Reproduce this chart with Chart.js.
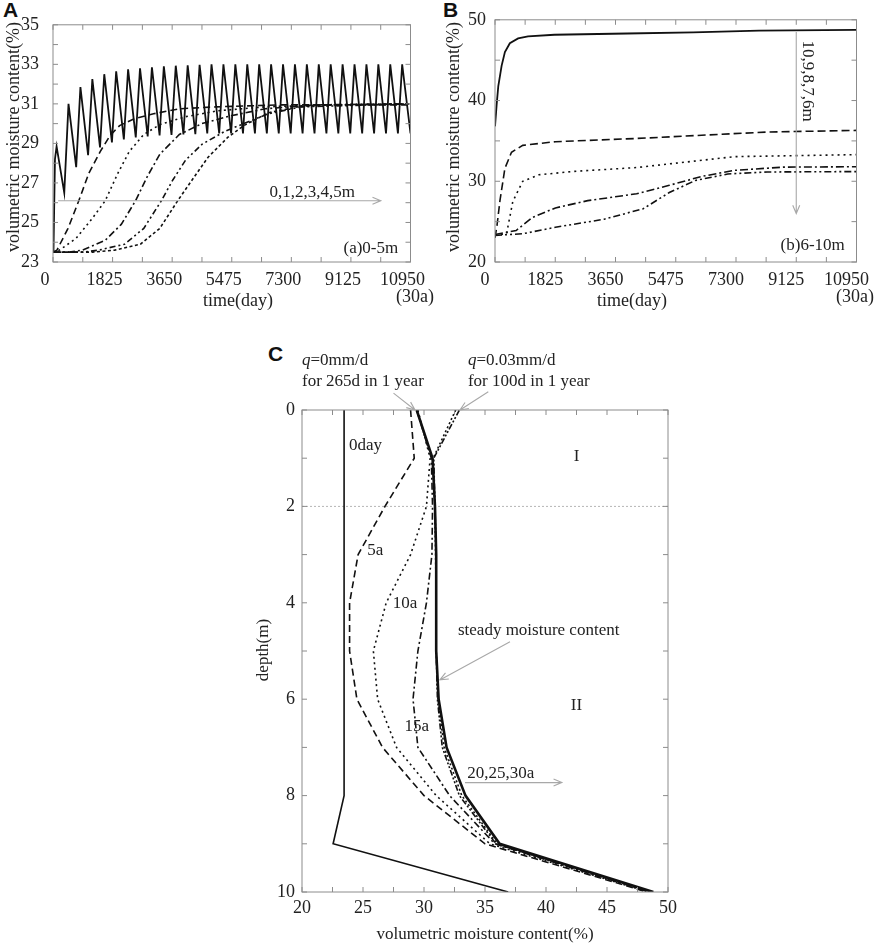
<!DOCTYPE html>
<html>
<head>
<meta charset="utf-8">
<script src="https://cdn.jsdelivr.net/npm/chart.js@4.4.1/dist/chart.umd.min.js"></script>
<style>
    body { margin: 0; width: 886px; height: 949px; background: #fff; position: relative; overflow: hidden; }
    canvas { position: absolute; }
    .tag { position: absolute; font: bold 21px "Liberation Sans", Arial, sans-serif; color: #111; }
</style>
</head>
<body>
<div class="tag" style="left:3px;top:-2px">A</div>
<div class="tag" style="left:443px;top:-2px">B</div>
<div class="tag" style="left:268px;top:342px">C</div>
<canvas id="chartA" width="440" height="310" style="left:0;top:0"></canvas>
<canvas id="chartB" width="446" height="310" style="left:440px;top:0"></canvas>
<canvas id="chartC" width="460" height="629" style="left:240px;top:320px"></canvas>
<script>
// ======================= Data =======================
const timeTicks = [0, 1825, 3650, 5475, 7300, 9125, 10950];
const ticksA = [23, 25, 27, 29, 31, 33, 35];
const ticksB = [20, 30, 40, 50];
const ticksCx = [20, 25, 30, 35, 40, 45, 50];
const ticksCy = [0, 2, 4, 6, 8, 10];

// (a) 0-5m, moisture vs time
const days0m = [0, 15, 60, 110, 345, 475, 710, 840, 1075, 1205, 1440, 1570, 1805, 1935, 2170, 2300, 2535,
    2665, 2900, 3030, 3265, 3395, 3630, 3760, 3995, 4125, 4360, 4490, 4725, 4855, 5090, 5220, 5455, 5585,
    5820, 5950, 6185, 6315, 6550, 6680, 6915, 7045, 7280, 7410, 7645, 7775, 8010, 8140, 8375, 8505, 8740,
    8870, 9105, 9235, 9470, 9600, 9835, 9965, 10200, 10330, 10565, 10695, 10950];
const vals0m = [23.5, 23.6, 28.2, 28.85, 26.5, 31.0, 27.8, 31.85, 28.4, 32.25, 28.8, 32.5, 29.05, 32.65, 29.2,
    32.75, 29.3, 32.8, 29.35, 32.85, 29.4, 32.9, 29.43, 32.93, 29.45, 32.95, 29.47, 32.97, 29.5, 33.0, 29.5,
    33.0, 29.5, 33.0, 29.5, 33.0, 29.5, 33.0, 29.5, 33.0, 29.5, 33.0, 29.5, 33.0, 29.5, 33.0, 29.5, 33.0,
    29.5, 33.0, 29.5, 33.0, 29.5, 33.0, 29.5, 33.0, 29.5, 33.0, 29.5, 33.0, 29.5, 33.0, 29.5];
const days1m = [0, 120, 460, 790, 1100, 1450, 1750, 2040, 2490, 3080, 3860, 5000, 7000, 10950];
const vals1m = [23.5, 23.6, 24.7, 26.1, 27.5, 28.6, 29.4, 29.9, 30.25, 30.5, 30.75, 30.85, 30.95, 30.95];
const days2m = [0, 200, 710, 1200, 1600, 1990, 2340, 2780, 3270, 4060, 5050, 6500, 8500, 10950];
const vals2m = [23.5, 23.6, 24.2, 25.2, 26.1, 27.5, 28.6, 29.45, 29.95, 30.35, 30.65, 30.85, 30.95, 31.0];
const days3m = [0, 500, 900, 1600, 2090, 2530, 2880, 3270, 3870, 4560, 5450, 6500, 8000, 10950];
const vals3m = [23.5, 23.5, 23.6, 24.1, 24.9, 26.1, 27.3, 28.45, 29.45, 30.0, 30.4, 30.75, 30.95, 31.0];
const days4m = [0, 900, 1400, 2190, 2780, 3320, 3670, 4060, 4560, 5250, 5840, 6600, 7600, 10950];
const vals4m = [23.5, 23.5, 23.6, 23.9, 24.7, 26.1, 27.15, 28.15, 28.95, 29.6, 30.0, 30.5, 30.85, 31.0];
const days5m = [0, 1200, 1890, 2680, 3270, 3820, 4260, 4750, 5350, 5840, 6600, 7500, 8500, 10950];
const vals5m = [23.5, 23.5, 23.6, 23.9, 24.7, 26.1, 27.15, 28.3, 29.3, 29.9, 30.55, 30.85, 30.95, 31.0];

// (b) 6-10m, moisture vs time
const days10m = [0, 50, 100, 200, 300, 450, 700, 1000, 1800, 4000, 6000, 8000, 10950];
const vals10m = [36.8, 39.5, 41.8, 44.3, 46.0, 47.1, 47.7, 47.95, 48.15, 48.3, 48.45, 48.65, 48.75];
const days9m = [0, 60, 150, 300, 500, 840, 1830, 4290, 6260, 8240, 10950];
const vals9m = [23.0, 24.5, 27.6, 31.6, 33.6, 34.45, 34.9, 35.3, 35.7, 36.1, 36.3];
const days8m = [0, 350, 540, 840, 1330, 2320, 4290, 7250, 10950];
const vals8m = [23.3, 23.5, 27.5, 30.0, 30.8, 31.2, 31.7, 33.05, 33.3];
const days7m = [0, 640, 1130, 1830, 2810, 4290, 5280, 6260, 7250, 8730, 10950];
const vals7m = [23.4, 23.9, 25.5, 26.7, 27.6, 28.45, 29.5, 30.6, 31.35, 31.75, 31.8];
const days6m = [0, 840, 1830, 3310, 4490, 5280, 6070, 7050, 8240, 10950];
const vals6m = [23.3, 23.5, 24.3, 25.3, 26.6, 28.6, 30.1, 30.9, 31.15, 31.2];

// (c) depth profiles
const depthsC = [0, 1, 2, 3, 4, 5, 6, 7, 8, 9, 10];
const prof0day = [23.45, 23.45, 23.45, 23.45, 23.45, 23.45, 23.45, 23.45, 23.45, 22.55, 36.9];
const prof5a = [28.9, 29.2, 26.8, 24.6, 23.9, 23.9, 24.5, 26.6, 30.0, 35.0, 48.3];
const prof10a = [29.5, 30.5, 30.2, 28.9, 26.9, 25.85, 26.2, 27.75, 31.0, 35.4, 48.4];
const prof15a = [29.4, 30.6, 30.7, 30.65, 30.2, 29.5, 29.1, 29.5, 32.1, 35.8, 48.5];
const prof20a = [32.9, 30.8, 30.9, 31.0, 31.0, 31.0, 31.1, 31.5, 32.9, 35.9, 48.6];
const prof25a = [32.6, 30.75, 30.9, 30.95, 31.0, 31.0, 31.15, 31.65, 33.1, 36.0, 48.7];
const profSteady = [29.4, 30.7, 30.9, 31.0, 31.0, 31.0, 31.2, 31.85, 33.4, 36.2, 48.8];

// ======================= Helpers =======================
Chart.defaults.font.family = '"Liberation Serif", "Times New Roman", serif';
Chart.defaults.color = '#222';

const pts = (xs, ys) => xs.map((v, i) => ({ x: v, y: ys[i] }));
const mids = arr => arr.slice(1).map((v, i) => (arr[i] + v) / 2);

function line(label, data, dash, width) {
    return {
        label, data,
        borderColor: "#111", borderWidth: width || 1.6, borderDash: dash,
        pointRadius: 0, fill: false, tension: 0, showLine: true
    };
}

function drawArrow(ctx, x1, y1, x2, y2) {
    const ang = Math.atan2(y2 - y1, x2 - x1), h = 9;
    ctx.beginPath();
    ctx.moveTo(x1, y1); ctx.lineTo(x2, y2);
    ctx.moveTo(x2 - h * Math.cos(ang - 0.4), y2 - h * Math.sin(ang - 0.4));
    ctx.lineTo(x2, y2);
    ctx.lineTo(x2 - h * Math.cos(ang + 0.4), y2 - h * Math.sin(ang + 0.4));
    ctx.stroke();
}

// frame, inward ticks, notes and arrows
const decor = {
    id: "decor",
    beforeDatasetsDraw(chart, args, opts) {
        const { ctx, chartArea: a, scales: { y } } = chart;
        (opts.guides || []).forEach(g => {
            const py = y.getPixelForValue(g);
            ctx.save();
            ctx.strokeStyle = "#b5b5b5"; ctx.lineWidth = 1; ctx.setLineDash([2, 2]);
            ctx.beginPath(); ctx.moveTo(a.left, py); ctx.lineTo(a.right, py); ctx.stroke();
            ctx.restore();
        });
    },
    afterDraw(chart, args, opts) {
        const { ctx, chartArea: a, scales: { x, y } } = chart;
        ctx.save();
        ctx.strokeStyle = "#8c8c8c"; ctx.lineWidth = 1;
        ctx.strokeRect(a.left, a.top, a.width, a.height);
        const tl = 5;
        ctx.beginPath();
        opts.xTicks.concat(mids(opts.xTicks)).forEach(v => {
            const px = x.getPixelForValue(v);
            ctx.moveTo(px, a.bottom); ctx.lineTo(px, a.bottom - tl);
            ctx.moveTo(px, a.top); ctx.lineTo(px, a.top + tl);
        });
        opts.yTicks.concat(mids(opts.yTicks)).forEach(v => {
            const py = y.getPixelForValue(v);
            ctx.moveTo(a.left, py); ctx.lineTo(a.left + tl, py);
            ctx.moveTo(a.right, py); ctx.lineTo(a.right - tl, py);
        });
        ctx.stroke();

        ctx.strokeStyle = "#a8a8a8"; ctx.lineWidth = 1.1;
        (opts.arrows || []).forEach(ar => {
            drawArrow(ctx, x.getPixelForValue(ar[0]), y.getPixelForValue(ar[1]),
                x.getPixelForValue(ar[2]), y.getPixelForValue(ar[3]));
        });

        ctx.fillStyle = "#222";
        ctx.textBaseline = "middle";
        (opts.notes || []).forEach(n => {
            const px = n.cx !== undefined ? n.cx : x.getPixelForValue(n.x);
            const py = n.cy !== undefined ? n.cy : y.getPixelForValue(n.y);
            const size = n.size || 17;
            ctx.save();
            ctx.translate(px, py);
            if (n.rot) ctx.rotate(n.rot);
            if (n.italic) {
                ctx.textAlign = "left";
                ctx.font = `italic ${size}px "Liberation Serif", serif`;
                ctx.fillText(n.italic, 0, 0);
                const w = ctx.measureText(n.italic).width;
                ctx.font = `${size}px "Liberation Serif", serif`;
                ctx.fillText(n.text, w, 0);
            } else {
                ctx.textAlign = n.align || "center";
                ctx.font = `${size}px "Liberation Serif", serif`;
                ctx.fillText(n.text, 0, 0);
            }
            ctx.restore();
        });
        ctx.restore();
    }
};

function axes(xMin, xMax, xTicks, yMin, yMax, yTicks, fit, reverse) {
    return {
        x: {
            type: "linear", min: xMin, max: xMax,
            afterBuildTicks: s => { s.ticks = xTicks.map(v => ({ value: v })); },
            afterFit: s => { s.height = fit.xh; },
            grid: { display: false, drawTicks: false }, border: { display: false },
            ticks: { font: { size: fit.font }, padding: fit.xpad, labelOffset: fit.xoff, maxRotation: 0, callback: v => String(v) }
        },
        y: {
            type: "linear", min: yMin, max: yMax, reverse: !!reverse,
            afterBuildTicks: s => { s.ticks = yTicks.map(v => ({ value: v })); },
            afterFit: s => { s.width = fit.yw; },
            grid: { display: false, drawTicks: false }, border: { display: false },
            ticks: { font: { size: fit.font }, padding: fit.ypad, callback: v => String(v) }
        }
    };
}

const baseOpts = {
    responsive: false, animation: false,
    events: []
};

// ======================= Panel A =======================
new Chart(document.getElementById("chartA"), {
    type: "scatter",
    data: {
        datasets: [
            line("0m", pts(days0m, vals0m), [], 1.8),
            line("1m", pts(days1m, vals1m), [7, 4]),
            line("2m", pts(days2m, vals2m), [2, 3.5]),
            line("3m", pts(days3m, vals3m), [7, 3, 2, 3]),
            line("4m", pts(days4m, vals4m), [6, 3, 2, 3, 2, 3]),
            line("5m", pts(days5m, vals5m), [3, 2.5])
        ]
    },
    options: {
        ...baseOpts,
        layout: { padding: { top: 16, right: 17, left: 0, bottom: 0 } },
        scales: axes(0, 10950, timeTicks, 23, 35, ticksA, { xh: 48, yw: 53, font: 18, xpad: 7, ypad: 14, xoff: -8 }),
        plugins: {
            legend: { display: false }, tooltip: { enabled: false },
            decor: {
                xTicks: timeTicks, yTicks: ticksA,
                arrows: [[157, 26.1, 10040, 26.1]],
                notes: [
                    { text: "volumetric moisture content(%)", cx: 14, cy: 137, rot: -Math.PI / 2, size: 18 },
                    { text: "time(day)", cx: 238, cy: 301, size: 18 },
                    { text: "(30a)", cx: 415, cy: 297, size: 18 },
                    { text: "0,1,2,3,4,5m", x: 7940, y: 26.5 },
                    { text: "(a)0-5m", x: 10574, y: 23.68, align: "right" }
                ]
            }
        }
    },
    plugins: [decor]
});

// ======================= Panel B =======================
new Chart(document.getElementById("chartB"), {
    type: "scatter",
    data: {
        datasets: [
            line("10m", pts(days10m, vals10m), [], 1.8),
            line("9m", pts(days9m, vals9m), [8, 4]),
            line("8m", pts(days8m, vals8m), [2, 4]),
            line("7m", pts(days7m, vals7m), [8, 3, 2, 3]),
            line("6m", pts(days6m, vals6m), [7, 3, 2, 3, 2, 3])
        ]
    },
    options: {
        ...baseOpts,
        layout: { padding: { top: 16, right: 21, left: 0, bottom: 0 } },
        scales: axes(0, 10950, timeTicks, 20, 50, ticksB, { xh: 48, yw: 55, font: 18, xpad: 7, ypad: 9, xoff: -10 }),
        plugins: {
            legend: { display: false }, tooltip: { enabled: false },
            decor: {
                xTicks: timeTicks, yTicks: ticksB,
                arrows: [[9125, 48.5, 9125, 26.0]],
                notes: [
                    { text: "volumetric moisture content(%)", cx: 14, cy: 137, rot: -Math.PI / 2, size: 18 },
                    { text: "time(day)", cx: 192, cy: 301, size: 18 },
                    { text: "(30a)", cx: 415, cy: 297, size: 18 },
                    { text: "10,9,8,7,6m", x: 9470, y: 42.4, rot: Math.PI / 2 },
                    { text: "(b)6-10m", x: 10595, y: 22.1, align: "right" }
                ]
            }
        }
    },
    plugins: [decor]
});

// ======================= Panel C =======================
new Chart(document.getElementById("chartC"), {
    type: "scatter",
    data: {
        datasets: [
            line("0day", pts(prof0day, depthsC), [], 1.6),
            line("5a", pts(prof5a, depthsC), [7, 4]),
            line("10a", pts(prof10a, depthsC), [2, 3.5]),
            line("15a", pts(prof15a, depthsC), [7, 3, 2, 3]),
            line("20a", pts(prof20a, depthsC), [6, 2, 2, 2, 2, 2]),
            line("25a", pts(prof25a, depthsC), [2, 2.5]),
            line("30a", pts(profSteady, depthsC), [], 2.6)
        ]
    },
    options: {
        ...baseOpts,
        layout: { padding: { top: 90, right: 32, left: 0, bottom: 0 } },
        scales: axes(20, 50, ticksCx, 0, 10, ticksCy, { xh: 57, yw: 62, font: 18, xpad: 5, ypad: 7, xoff: 0 }, true),
        plugins: {
            legend: { display: false }, tooltip: { enabled: false },
            decor: {
                xTicks: ticksCx, yTicks: ticksCy,
                guides: [2],
                arrows: [
                    [27.5, -0.35, 29.26, 0],
                    [35.27, -0.38, 32.95, 0],
                    [37.05, 4.81, 31.3, 5.6],
                    [33.36, 7.73, 41.3, 7.73]
                ],
                notes: [
                    { text: "depth(m)", cx: 24, cy: 330, rot: -Math.PI / 2 },
                    { text: "volumetric moisture content(%)", cx: 245, cy: 615 },
                    { italic: "q", text: "=0mm/d", x: 20, y: -1.02 },
                    { text: "for 265d in 1 year", x: 20, y: -0.59, align: "left" },
                    { italic: "q", text: "=0.03mm/d", x: 33.6, y: -1.02 },
                    { text: "for 100d in 1 year", x: 33.6, y: -0.59, align: "left" },
                    { text: "0day", x: 23.85, y: 0.73, align: "left" },
                    { text: "I", x: 42.5, y: 0.97 },
                    { text: "II", x: 42.5, y: 6.14 },
                    { text: "5a", x: 26.0, y: 2.92 },
                    { text: "10a", x: 28.45, y: 4.02 },
                    { text: "15a", x: 29.4, y: 6.57 },
                    { text: "steady moisture content", x: 39.4, y: 4.58 },
                    { text: "20,25,30a", x: 36.3, y: 7.55 }
                ]
            }
        }
    },
    plugins: [decor]
});
</script>
</body>
</html>
